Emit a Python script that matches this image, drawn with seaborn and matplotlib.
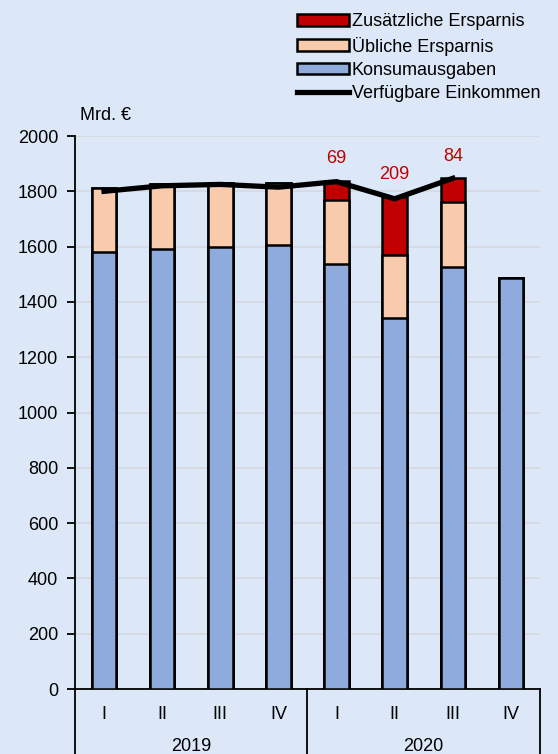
import numpy as np
import pandas as pd
import matplotlib
matplotlib.use('Agg')
import matplotlib.pyplot as plt
import matplotlib.transforms as mtransforms
from matplotlib.patches import Patch
from matplotlib.lines import Line2D
import seaborn as sns

# ── Data (Mrd. €) ──────────────────────────────────────────────────────────────
years = ['2019', '2020']
quarters = ['I', 'II', 'III', 'IV', 'I', 'II', 'III', 'IV']
periods = ['2019-I', '2019-II', '2019-III', '2019-IV',
           '2020-I', '2020-II', '2020-III', '2020-IV']
konsum = [1582, 1590, 1600, 1607, 1537, 1341, 1528, 1485]
ueblich = [230, 236, 230, 224, 233, 229, 235, np.nan]
zusaetzlich = [0, 0, 0, 0, 69, 209, 84, np.nan]
einkommen = [1800, 1820, 1825, 1815, 1835, 1773, 1847, np.nan]

df = pd.DataFrame({'periode': periods, 'konsum': konsum,
                   'ueblich': ueblich, 'zusaetzlich': zusaetzlich,
                   'einkommen': einkommen})
df['stufe2'] = df['konsum'] + df['ueblich'].fillna(0)
df['stufe3'] = df['stufe2'] + df['zusaetzlich'].fillna(0)

c_red = '#C00000'
c_peach = '#F8CBAD'
c_blue = '#8FAADC'
bg = '#DCE8F7'

plt.rcParams['font.family'] = ['Liberation Sans', 'DejaVu Sans']
plt.rcParams['font.size'] = 13

fig = plt.figure(figsize=(5.58, 7.54), dpi=100, facecolor=bg)
ax = fig.add_axes([0.1344, 0.0862, 0.8333, 0.7334], facecolor=bg)

# ── Stacked bars (drawn back to front) ────────────────────────────────────────
bar_kw = dict(x='periode', order=periods, width=0.42, edgecolor='black',
              linewidth=1.8, saturation=1, ax=ax, zorder=3)
sns.barplot(data=df, y='stufe3', color=c_red, **bar_kw)
sns.barplot(data=df, y='stufe2', color=c_peach, **bar_kw)
sns.barplot(data=df, y='konsum', color=c_blue, **bar_kw)

# ── Disposable income line ─────────────────────────────────────────────────────
line_df = df.dropna(subset=['einkommen']).copy()
line_df['pos'] = [periods.index(p) for p in line_df['periode']]
sns.lineplot(data=line_df, x='pos', y='einkommen', color='black',
             linewidth=3.8, sort=False, ax=ax, zorder=5)

# labels for additional savings
for i, row in df.iterrows():
    if row['zusaetzlich'] > 0:
        ax.text(i, row['stufe3'] + 50, f"{int(row['zusaetzlich'])}",
                color=c_red, ha='center', va='bottom', fontsize=13)

# ── Axes styling ───────────────────────────────────────────────────────────────
ax.set_ylim(0, 2000)
ax.set_xlim(-0.5, 7.5)
ax.set_yticks(range(0, 2001, 200))
ax.yaxis.grid(True, color='#D5D9DF', linewidth=1.2, zorder=0)
ax.set_axisbelow(True)
ax.set_xlabel('')
ax.set_ylabel('')
for s in ['top', 'right']:
    ax.spines[s].set_visible(False)
ax.spines['left'].set_linewidth(1.3)
ax.spines['bottom'].set_linewidth(1.3)
ax.tick_params(axis='y', direction='out', length=6, width=1.3, pad=6)
ax.set_xticks(range(len(periods)))
ax.set_xticklabels(quarters)
ax.tick_params(axis='x', length=0, pad=12)

trans = mtransforms.blended_transform_factory(ax.transData, ax.transAxes)
for k, yr in enumerate(years):
    ax.text(k * 4 + 1.5, -0.104, yr, transform=trans, ha='center', va='center')
for xd in [-0.5, 3.5, 7.5]:
    ax.plot([xd, xd], [0, -0.125], transform=trans, color='black',
            linewidth=1.3, clip_on=False)

fig.text(0.143, 0.847, 'Mrd. €', ha='left', va='center', fontsize=13)

# ── Legend ─────────────────────────────────────────────────────────────────────
handles = [
    Patch(facecolor=c_red, edgecolor='black', linewidth=1.8),
    Patch(facecolor=c_peach, edgecolor='black', linewidth=1.8),
    Patch(facecolor=c_blue, edgecolor='black', linewidth=1.8),
    Line2D([0], [0], color='black', linewidth=3.8),
]
labels = ['Zusätzliche Ersparnis', 'Übliche Ersparnis',
          'Konsumausgaben', 'Verfügbare Einkommen']
fig.legend(handles, labels, loc='upper left', bbox_to_anchor=(0.503, 1.004),
           frameon=False, handlelength=2.9, handleheight=0.6,
           handletextpad=0.15, labelspacing=0.35, fontsize=13)

fig.savefig('out.png', dpi=100, facecolor=bg)
